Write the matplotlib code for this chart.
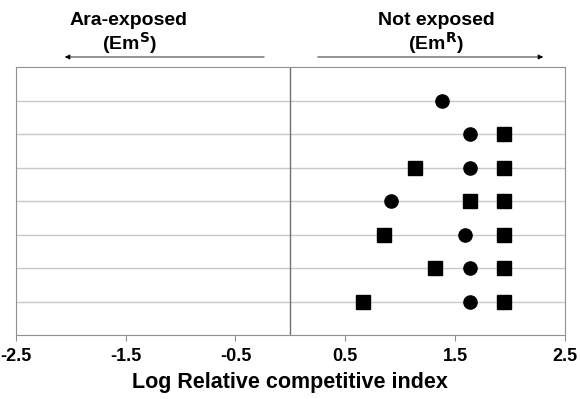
import matplotlib
matplotlib.use("Agg")
import matplotlib.pyplot as plt

plt.rcParams["font.family"] = ["Liberation Sans", "DejaVu Sans"]

# rows counted from the bottom (1) to the top (7)
circle_rows = [7, 6, 5, 4, 3, 2, 1]
circle_x = [1.38, 1.64, 1.64, 0.92, 1.59, 1.64, 1.64]
square_rows = [6, 5, 5, 4, 4, 3, 3, 2, 2, 1, 1]
square_x = [1.95, 1.14, 1.95, 1.64, 1.95, 0.85, 1.95, 1.32, 1.95, 0.66, 1.95]
xticks = [-2.5, -1.5, -0.5, 0.5, 1.5, 2.5]
n_rows = 7

fig = plt.figure(figsize=(5.8, 3.99), dpi=100)
ax = fig.add_axes([0.0276, 0.160, 0.946, 0.672])

for r in range(1, n_rows + 1):
    ax.axhline(r, color="#c8c8c8", lw=1, zorder=1)
ax.axvline(0, color="#707070", lw=1, zorder=1)

ax.plot(circle_x, circle_rows, "o", color="black", ms=9.5, ls="none", zorder=3)
ax.plot(square_x, square_rows, "s", color="black", ms=9.5, ls="none", zorder=3)

ax.set_xlim(-2.5, 2.5)
ax.set_ylim(0, n_rows + 1)
ax.set_xticks(xticks)
ax.set_xticklabels([f"{t:g}" for t in xticks], fontsize=13, fontweight="bold")
ax.set_yticks([])
ax.tick_params(axis="x", length=4, color="#909090", pad=5)
for s in ax.spines.values():
    s.set_color("#909090")
ax.set_xlabel("Log Relative competitive index", fontsize=15.5, fontweight="bold", labelpad=5)

# header labels with direction arrows
fig.text(129 / 580, 1 - 34 / 399, "Ara-exposed\n(Em$^{\\mathbf{S}}$)", ha="center", va="center",
         fontsize=14, fontweight="bold", linespacing=1.1)
fig.text(436 / 580, 1 - 34 / 399, "Not exposed\n(Em$^{\\mathbf{R}}$)", ha="center", va="center",
         fontsize=14, fontweight="bold", linespacing=1.1)
y_arr = 1 - 57 / 399
fig.add_artist(matplotlib.patches.FancyArrowPatch(
    (267 / 580, y_arr), (62 / 580, y_arr), transform=fig.transFigure,
    arrowstyle="-|>,head_length=3,head_width=1.5", color="black", lw=0.6))
fig.add_artist(matplotlib.patches.FancyArrowPatch(
    (315 / 580, y_arr), (546 / 580, y_arr), transform=fig.transFigure,
    arrowstyle="-|>,head_length=3,head_width=1.5", color="black", lw=0.6))

fig.savefig("out.png", dpi=100)
